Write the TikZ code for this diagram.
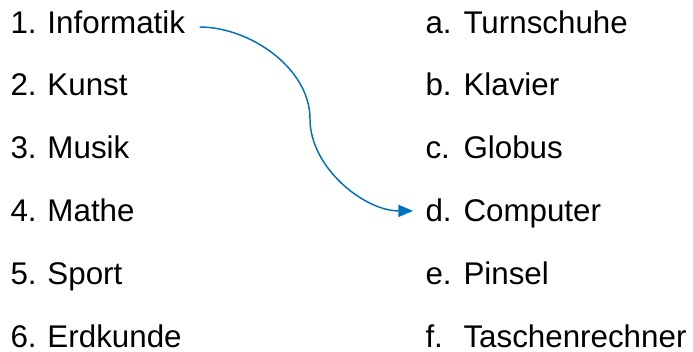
\documentclass[tikz,border=0pt]{standalone}
\usepackage{fontspec}
\setmainfont{Liberation Sans}
\usetikzlibrary{arrows.meta,calc}
\definecolor{linkblue}{RGB}{0,112,192}
\tikzset{every picture/.style={line width=0.75pt}}
\tikzset{
  item/.style={anchor=base west,inner sep=0pt,font=\fontsize{23.5}{28}\selectfont},
  link/.style={draw=linkblue,line width=1.1pt,-{Triangle[length=11pt,width=9pt]}}
}

\begin{document}
\begin{tikzpicture}[x=0.75pt,y=0.75pt,yscale=-1,xscale=1]
    \useasboundingbox (0,0) rectangle (693,351);

    % Left column
    \node[item] (n1)  at (10,33)    {1.};
    \node[item] (inf) at (47,33)    {Informatik};
    \node[item] (n2)  at (10,95.8)  {2.};
    \node[item] (kun) at (47,95.8)  {Kunst};
    \node[item] (n3)  at (10,158.6) {3.};
    \node[item] (mus) at (47,158.6) {Musik};
    \node[item] (n4)  at (10,221.4) {4.};
    \node[item] (mat) at (47,221.4) {Mathe};
    \node[item] (n5)  at (10,284.2) {5.};
    \node[item] (spo) at (47,284.2) {Sport};
    \node[item] (n6)  at (10,347)   {6.};
    \node[item] (erd) at (47,347)   {Erdkunde};

    % Right column
    \node[item] (la)  at (425,33)    {a.};
    \node[item] (tur) at (463,33)    {Turnschuhe};
    \node[item] (lb)  at (425,95.8)  {b.};
    \node[item] (kla) at (463,95.8)  {Klavier};
    \node[item] (lc)  at (425,158.6) {c.};
    \node[item] (glo) at (463,158.6) {Globus};
    \node[item] (ld)  at (425,221.4) {d.};
    \node[item] (com) at (463,221.4) {Computer};
    \node[item] (le)  at (425,284.2) {e.};
    \node[item] (pin) at (463,284.2) {Pinsel};
    \node[item] (lf)  at (425,347)   {f.};
    \node[item] (tas) at (463,347)   {Taschenrechner};

    % Curved arrow
    \coordinate (bend) at (310,119);
    \draw[link] ($(inf.base east)+(14,-6)$) to[out=0,in=-90,looseness=0.9] (bend)
        to[out=90,in=180,looseness=0.9] ($(ld.base west)+(-12,-10.5)$);

\end{tikzpicture}
\end{document}
